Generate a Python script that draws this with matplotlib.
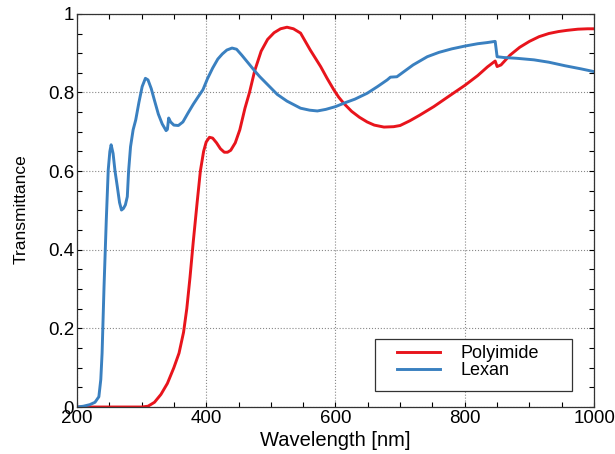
import matplotlib
matplotlib.use("Agg")
import matplotlib.pyplot as plt
from matplotlib.ticker import MultipleLocator
from matplotlib.patches import Rectangle

plt.rcParams['font.family'] = ['Liberation Sans', 'DejaVu Sans']

# Polyimide transmittance
pi_wl = [200, 250, 300, 310, 320, 330, 340, 350, 358, 365, 370, 375, 380, 386, 391,
         396, 400, 405, 410, 416, 422, 428, 433, 438, 445, 452, 460, 467, 475, 485,
         495, 505, 515, 525, 535, 546, 561, 577, 587, 597, 605, 613, 625, 637, 649,
         660, 675, 690, 700, 715, 730, 752, 775, 800, 820, 835, 847, 850, 856, 870,
         885, 900, 915, 930, 945, 958, 975, 990, 1000]
pi_t = [0.0, 0.0, 0.0, 0.002, 0.012, 0.032, 0.06, 0.10, 0.137, 0.19, 0.25, 0.33, 0.42, 0.52, 0.60,
        0.65, 0.674, 0.686, 0.684, 0.672, 0.657, 0.648, 0.648, 0.653, 0.672, 0.705, 0.76, 0.80, 0.855, 0.905,
        0.935, 0.952, 0.962, 0.966, 0.962, 0.951, 0.908, 0.866, 0.836, 0.808, 0.788, 0.772, 0.752, 0.737, 0.725,
        0.717, 0.712, 0.713, 0.716, 0.728, 0.742, 0.764, 0.790, 0.818, 0.843, 0.865, 0.880, 0.866, 0.870, 0.895,
        0.915, 0.930, 0.942, 0.950, 0.955, 0.958, 0.961, 0.962, 0.962]

# Lexan transmittance
lx_wl = [200, 210, 220, 228, 234, 237, 239, 242, 245.5, 248.5, 251, 253, 256, 259, 262.5,
         266, 269, 272, 275, 278, 280, 283, 287, 291, 296, 301, 306, 310, 315, 320,
         326, 332, 338, 340, 342, 345, 350, 357, 364, 372, 380, 388, 395, 402, 410,
         418, 425, 432, 440, 447, 455, 465, 475, 483, 495, 510, 525, 546, 560, 572,
         585, 600, 615, 630, 649, 665, 680, 685, 695, 705, 720, 742, 760, 780, 800,
         820, 835, 847, 850, 860, 880, 907, 930, 955, 980, 1000]
lx_t = [0.0, 0.002, 0.006, 0.012, 0.026, 0.07, 0.137, 0.306, 0.476, 0.603, 0.65, 0.667, 0.645, 0.60, 0.561,
        0.52, 0.501, 0.505, 0.514, 0.535, 0.60, 0.662, 0.705, 0.730, 0.775, 0.815, 0.836, 0.832, 0.81, 0.78,
        0.745, 0.72, 0.703, 0.706, 0.735, 0.725, 0.717, 0.716, 0.725, 0.748, 0.77, 0.79, 0.807, 0.835, 0.862,
        0.885, 0.898, 0.908, 0.913, 0.91, 0.895, 0.875, 0.855, 0.840, 0.82, 0.795, 0.778, 0.760, 0.755, 0.753,
        0.757, 0.764, 0.774, 0.783, 0.798, 0.815, 0.832, 0.839, 0.840, 0.852, 0.870, 0.891, 0.902, 0.911, 0.918,
        0.924, 0.927, 0.930, 0.891, 0.889, 0.887, 0.883, 0.877, 0.868, 0.860, 0.853]

fig = plt.figure(figsize=(6.15, 4.54), dpi=100)
ax = fig.add_axes([0.125, 0.1035, 0.841, 0.866])

ax.plot(pi_wl, pi_t, color='#e8141c', lw=2.1, label='Polyimide')
ax.plot(lx_wl, lx_t, color='#3a80c0', lw=2.1, label='Lexan')

ax.set_xlim(200, 1000)
ax.set_ylim(0, 1)
ax.xaxis.set_major_locator(MultipleLocator(200))
ax.xaxis.set_minor_locator(MultipleLocator(50))
ax.yaxis.set_minor_locator(MultipleLocator(0.05))
ax.set_yticks([0, 0.2, 0.4, 0.6, 0.8, 1])
ax.set_yticklabels(['0', '0.2', '0.4', '0.6', '0.8', '1'])
ax.tick_params(which='both', direction='in', top=True, right=True, length=3.5,
               width=0.8, labelsize=13.5, pad=2)
ax.grid(True, which='major', linestyle=':', color='#888888', lw=0.8)
for s in ax.spines.values():
    s.set_linewidth(0.9)
    s.set_color('#333333')

ax.set_xlabel('Wavelength [nm]', fontsize=14.5, labelpad=3)
ax.set_ylabel('Transmittance', fontsize=12.5)
ax.yaxis.set_label_coords(-0.093, 0.504)

# legend box drawn by hand, entries placed inside
ax.add_patch(Rectangle((0.576, 0.041), 0.381, 0.132, transform=ax.transAxes,
                       facecolor='white', edgecolor='#333333', lw=0.9, zorder=4))
leg = ax.legend(loc='upper left', bbox_to_anchor=(0.619, 0.158), fontsize=13,
                handlelength=2.4, handletextpad=1.1, borderpad=0, labelspacing=0.0,
                frameon=False, borderaxespad=0)
leg.set_zorder(5)

fig.savefig('out.png', dpi=100)
